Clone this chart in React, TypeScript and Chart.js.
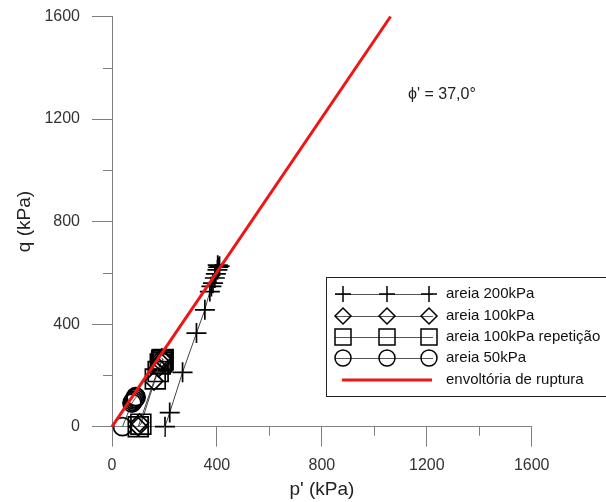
import React, { useEffect, useRef } from 'react';
import { Chart, registerables } from 'chart.js';

Chart.register(...registerables);

// ---- texts ----
const xTitle = "p' (kPa)";
const yTitle = 'q (kPa)';
const phiLabel = "\u03d5' = 37,0\u00b0";
const seriesNames = [
  'areia 200kPa',
  'areia 100kPa',
  'areia 100kPa repetição',
  'areia 50kPa',
  'envoltória de ruptura',
];

// ---- axes ----
const axisMin = 0;
const axisMax = 1600;
const majorStep = 400;
const minorTicks = [200, 600, 1000, 1400];

// ---- data ----
const areia200P = [202, 220, 269, 322, 354, 373, 379, 385, 392, 396, 402, 405, 410, 403];
const areia200Q = [0, 55, 212, 365, 456, 527, 547, 560, 580, 596, 612, 622, 626, 630];

const areia100P = [100, 105, 160, 178, 188, 193, 190];
const areia100Q = [0, 15, 178, 230, 250, 262, 268];

const areia100RepP = [100, 110, 165, 176, 184, 189, 193, 195, 190];
const areia100RepQ = [0, 10, 186, 215, 245, 252, 258, 262, 260];

const areia50P = [40, 76, 80, 84, 88, 92, 90];
const areia50Q = [0, 92, 98, 104, 110, 115, 117];

const envelopeP = [0, 1062];
const envelopeQ = [0, 1600];

const zip = (xs: number[], ys: number[]) => xs.map((x, i) => ({ x, y: ys[i] }));

const FONT = "'Liberation Sans', Arial, sans-serif";
const AXIS_COLOR = '#7f7f7f';
const RED = '#ee1515';

type MarkerKind = 'cross' | 'rectRot' | 'rect' | 'circle' | 'line';

function drawMarker(ctx: CanvasRenderingContext2D, kind: MarkerKind, x: number, y: number, r: number) {
  ctx.beginPath();
  if (kind === 'cross') {
    ctx.moveTo(x - r, y); ctx.lineTo(x + r, y);
    ctx.moveTo(x, y - r); ctx.lineTo(x, y + r);
  } else if (kind === 'rectRot') {
    ctx.moveTo(x - r, y); ctx.lineTo(x, y - r); ctx.lineTo(x + r, y); ctx.lineTo(x, y + r); ctx.closePath();
  } else if (kind === 'rect') {
    ctx.rect(x - r, y - r, 2 * r, 2 * r);
  } else if (kind === 'circle') {
    ctx.arc(x, y, r, 0, Math.PI * 2);
  }
  ctx.stroke();
}

const overlayPlugin = {
  id: 'overlay',
  afterDraw(chart: any) {
    const ctx: CanvasRenderingContext2D = chart.ctx;
    const xs = chart.scales.x;
    const ys = chart.scales.y;
    ctx.save();
    // minor ticks
    ctx.strokeStyle = AXIS_COLOR;
    ctx.lineWidth = 1;
    minorTicks.forEach((v) => {
      const px = Math.round(xs.getPixelForValue(v)) + 0.5;
      ctx.beginPath();
      ctx.moveTo(px, ys.bottom);
      ctx.lineTo(px, ys.bottom + 9);
      ctx.stroke();
      const py = Math.round(ys.getPixelForValue(v)) + 0.5;
      ctx.beginPath();
      ctx.moveTo(xs.left, py);
      ctx.lineTo(xs.left - 9, py);
      ctx.stroke();
    });

    // friction angle label
    ctx.fillStyle = '#222';
    ctx.font = `16px ${FONT}`;
    ctx.textBaseline = 'middle';
    ctx.textAlign = 'left';
    ctx.fillText(phiLabel, 408, 95);

    // legend
    const boxL = 326.5, boxT = 277.5, boxB = 396.5;
    ctx.fillStyle = '#fff';
    ctx.fillRect(boxL, boxT, 700 - boxL, boxB - boxT);
    ctx.strokeStyle = '#222';
    ctx.lineWidth = 1;
    ctx.strokeRect(boxL, boxT, 700 - boxL, boxB - boxT);

    const kinds: MarkerKind[] = ['cross', 'rectRot', 'rect', 'circle', 'line'];
    const rowsY = [294, 316, 337, 358, 380];
    const markerX = [343, 387, 429];
    kinds.forEach((kind, i) => {
      const y = rowsY[i];
      if (kind === 'line') {
        ctx.strokeStyle = RED;
        ctx.lineWidth = 3;
        ctx.beginPath();
        ctx.moveTo(342, y);
        ctx.lineTo(432, y);
        ctx.stroke();
      } else {
        ctx.strokeStyle = '#555';
        ctx.lineWidth = 1;
        ctx.beginPath();
        ctx.moveTo(335, y + 0.5);
        ctx.lineTo(433, y + 0.5);
        ctx.stroke();
        ctx.strokeStyle = '#000';
        ctx.lineWidth = 1.5;
        markerX.forEach((mx) => drawMarker(ctx, kind, mx, y, 8));
      }
      ctx.fillStyle = '#111';
      ctx.font = `15px ${FONT}`;
      ctx.textBaseline = 'middle';
      ctx.textAlign = 'left';
      ctx.fillText(seriesNames[i], 446, y);
    });
    ctx.restore();
  },
};

export default function App() {
  const ref = useRef<HTMLCanvasElement | null>(null);

  useEffect(() => {
    if (!ref.current) return;
    const markerDs = (label: string, data: any[], style: string, radius: number) => ({
      type: 'line' as const,
      label,
      data,
      showLine: true,
      borderColor: '#444',
      borderWidth: 1,
      pointStyle: style,
      pointRadius: radius,
      pointBorderColor: '#000',
      pointBackgroundColor: 'rgba(0,0,0,0)',
      pointBorderWidth: 1.7,
      fill: false,
      tension: 0,
      clip: false as any,
      order: 1,
    });

    const chart = new Chart(ref.current, {
      type: 'scatter',
      data: {
        datasets: [
          {
            type: 'line',
            label: seriesNames[4],
            data: zip(envelopeP, envelopeQ),
            showLine: true,
            borderColor: RED,
            borderWidth: 3,
            pointRadius: 0,
            fill: false,
            clip: false as any,
            order: 0,
          } as any,
          markerDs(seriesNames[0], zip(areia200P, areia200Q), 'cross', 10),
          markerDs(seriesNames[1], zip(areia100P, areia100Q), 'rectRot', 9),
          markerDs(seriesNames[2], zip(areia100RepP, areia100RepQ), 'rect', 14),
          markerDs(seriesNames[3], zip(areia50P, areia50Q), 'circle', 9),
        ],
      },
      options: {
        animation: false,
        responsive: true,
        maintainAspectRatio: false,
        layout: { padding: { top: 16.5, right: 74.3, bottom: 0, left: 0 } },
        plugins: {
          legend: { display: false },
          tooltip: { enabled: false },
        },
        scales: {
          x: {
            type: 'linear',
            min: axisMin,
            max: axisMax,
            afterFit: (s: any) => { s.height = 75.3; s.paddingLeft = 0; s.paddingRight = 0; },
            border: { display: true, color: AXIS_COLOR, width: 1 },
            grid: { drawOnChartArea: false, drawTicks: true, tickLength: 20, tickColor: AXIS_COLOR, color: AXIS_COLOR },
            ticks: {
              stepSize: majorStep,
              padding: 9,
              color: '#333',
              font: { family: FONT, size: 16 },
              maxRotation: 0,
              callback: (v: any) => String(v),
            },
            title: {
              display: true,
              text: xTitle,
              color: '#222',
              font: { family: FONT, size: 19 },
              padding: { top: 0, bottom: 1 },
            },
          },
          y: {
            type: 'linear',
            min: axisMin,
            max: axisMax,
            afterFit: (s: any) => { s.width = 112; s.paddingTop = 0; s.paddingBottom = 0; },
            border: { display: true, color: AXIS_COLOR, width: 1 },
            grid: { drawOnChartArea: false, drawTicks: true, tickLength: 20, tickColor: AXIS_COLOR, color: AXIS_COLOR },
            ticks: {
              stepSize: majorStep,
              padding: 12,
              color: '#333',
              font: { family: FONT, size: 16 },
              callback: (v: any) => String(v),
            },
            title: {
              display: true,
              text: yTitle,
              color: '#222',
              font: { family: FONT, size: 19 },
              padding: { top: 13, bottom: 0 },
            },
          },
        },
      } as any,
      plugins: [overlayPlugin],
    });
    return () => chart.destroy();
  }, []);

  return (
    <div style={{ position: 'absolute', left: 0, top: 0, width: 606, height: 502, background: '#fff' }}>
      <canvas ref={ref} />
    </div>
  );
}
